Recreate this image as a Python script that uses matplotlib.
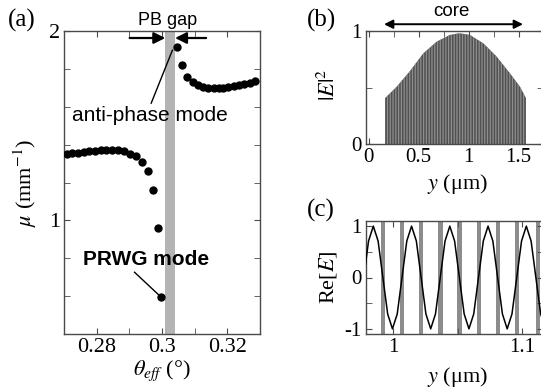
import numpy as np
import matplotlib
matplotlib.use("Agg")
import matplotlib.pyplot as plt

plt.rcParams['font.family'] = ['Liberation Serif', 'DejaVu Serif']
plt.rcParams['mathtext.fontset'] = 'stix'
plt.rcParams['axes.unicode_minus'] = False
plt.rcParams['hatch.linewidth'] = 0.9

# ---------------- data ----------------
# (a) attenuation mu vs theta_eff
theta_low = [0.2708, 0.2726, 0.2744, 0.2761, 0.2777, 0.2794, 0.2812, 0.2830,
             0.2847, 0.2865, 0.2884, 0.2903, 0.2921, 0.2938, 0.2956, 0.2973,
             0.2987, 0.2998]
mu_low = [1.353, 1.354, 1.358, 1.361, 1.365, 1.367, 1.369, 1.370,
          1.370, 1.369, 1.364, 1.353, 1.339, 1.309, 1.259, 1.162,
          0.959, 0.594]
theta_up = [0.3046, 0.3060, 0.3078, 0.3094, 0.3111, 0.3127, 0.3142, 0.3158,
            0.3173, 0.3188, 0.3203, 0.3219, 0.3235, 0.3251, 0.3268, 0.3285]
mu_up = [1.917, 1.820, 1.758, 1.732, 1.714, 1.704, 1.698, 1.697,
         1.697, 1.700, 1.704, 1.709, 1.714, 1.720, 1.726, 1.735]
gap_band = (0.301, 0.304)

# (b) |E|^2 envelope vs y
y_env = [0.165, 0.165, 0.282, 0.415, 0.548, 0.682, 0.815, 0.908, 1.015,
         1.148, 1.282, 1.415, 1.515, 1.575, 1.575]
e2_env = [0.0, 0.405, 0.507, 0.646, 0.802, 0.906, 0.965, 0.980, 0.965,
          0.891, 0.773, 0.625, 0.507, 0.405, 0.0]
core_span = (0.155, 1.545)

# (c) Re[E] vs y
y_re = [0.97695, 0.98068, 0.98440, 0.98813, 0.99185, 0.99558, 0.99930,
        1.00303, 1.00675, 1.01048, 1.01420, 1.01793, 1.02165, 1.02538,
        1.02910, 1.03283, 1.03655, 1.04028, 1.04400, 1.04773, 1.05145,
        1.05518, 1.05890, 1.06263, 1.06635, 1.07008, 1.07380, 1.07753,
        1.08125, 1.08498, 1.08870, 1.09243, 1.09615, 1.09988, 1.10360,
        1.10733, 1.11105, 1.11478, 1.11850]
re_e = [0.0, 0.71, 1.0, 0.71, 0.0, -0.71, -1.0,
        -0.71, 0.0, 0.71, 1.0, 0.71, 0.0, -0.71,
        -1.0, -0.71, 0.0, 0.71, 1.0, 0.71, 0.0,
        -0.71, -1.0, -0.71, 0.0, 0.71, 1.0, 0.71,
        0.0, -0.71, -1.0, -0.71, 0.0, 0.71, 1.0,
        0.71, 0.0, -0.71, -1.0]
layer_centers = [0.9918, 1.0069, 1.0217, 1.0368, 1.0516, 1.0666, 1.0815,
                 1.0965, 1.1125]
layer_width = 0.0034

# ---------------- figure ----------------
W, H = 541, 387
fig = plt.figure(figsize=(W / 100, H / 100), dpi=100)


def rect(l, r, t, b):
    return [l / W, 1 - b / H, (r - l) / W, (b - t) / H]


axcol = '#4a4a4a'


def style(ax, size):
    for s in ax.spines.values():
        s.set_color(axcol)
        s.set_linewidth(1.0)
    ax.tick_params(which='both', direction='in', top=True, right=True,
                   color=axcol, labelsize=size, pad=3)
    ax.tick_params(which='major', length=4)
    ax.tick_params(which='minor', length=4)


# ---- (a)
axa = fig.add_axes(rect(64, 260, 31, 334))
axa.axvspan(gap_band[0], gap_band[1], color='#b4b4b4', lw=0, zorder=1)
axa.plot(theta_low, mu_low, 'o', color='black', ms=5, zorder=3)
axa.plot(theta_up, mu_up, 'o', color='black', ms=5, zorder=3)
axa.set_xlim(0.27, 0.33)
axa.set_ylim(0.4, 2.0)
axa.set_xticks([0.28, 0.30, 0.32])
axa.set_xticklabels(['0.28', '0.3', '0.32'])
axa.set_xticks([0.27, 0.29, 0.31, 0.33], minor=True)
axa.set_yticks([1, 2])
axa.set_yticklabels(['1', '2'])
axa.set_yticks([0.4, 0.6, 0.8, 1.2, 1.4, 1.6, 1.8], minor=True)
style(axa, 16)
axa.set_ylabel(r'$\mu$ (mm$^{-1}$)', fontsize=16)
axa.yaxis.set_label_coords(-0.13, 0.5)
axa.set_xlabel(r'$\theta_{eff}$ (°)', fontsize=16)
axa.xaxis.set_label_coords(0.5, -0.08)

sans = ['Liberation Sans', 'DejaVu Sans']
# PB gap arrows + text
axa.annotate('', xy=(gap_band[0], 1.963), xytext=(0.2901, 1.963),
             arrowprops=dict(arrowstyle='-|>', color='black', lw=1.6,
                             mutation_scale=17, shrinkA=0, shrinkB=0),
             annotation_clip=False, zorder=4)
axa.annotate('', xy=(gap_band[1], 1.963), xytext=(0.3135, 1.963),
             arrowprops=dict(arrowstyle='-|>', color='black', lw=1.6,
                             mutation_scale=17, shrinkA=0, shrinkB=0),
             annotation_clip=False, zorder=4)
axa.text(0.3018, 2.058, 'PB gap', family=sans, fontsize=13,
         ha='center', va='center', clip_on=False)
# mode annotations
axa.text(0.2963, 1.556, 'anti-phase mode', family=sans, fontsize=15,
         ha='center', va='center', zorder=5)
axa.plot([0.2967, 0.3032], [1.619, 1.899], color='black', lw=1.0, zorder=4)
axa.text(0.2951, 0.794, 'PRWG mode', family=sans, fontsize=15,
         fontweight='bold', ha='center', va='center', zorder=5)
axa.plot([0.2916, 0.2989], [0.726, 0.608], color='black', lw=1.0, zorder=4)

# ---- (b)
axb = fig.add_axes(rect(366, 543, 31, 144))
axb.fill_between(y_env, 0, e2_env, facecolor='#505050', edgecolor='#8e8e8e',
                 hatch='||||||', linewidth=0, zorder=2)
axb.set_xlim(-0.025, 1.745)
axb.set_ylim(0, 1)
axb.set_xticks([0, 0.5, 1, 1.5])
axb.set_xticklabels(['0', '0.5', '1', '1.5'])
axb.set_xticks([0.25, 0.75, 1.25], minor=True)
axb.set_yticks([0, 1])
axb.set_yticklabels(['0', '1'])
axb.set_yticks([0.5], minor=True)
style(axb, 15)
axb.set_ylabel(r'$|E|^2$', fontsize=16)
axb.yaxis.set_label_coords(-0.15, 0.52)
axb.set_xlabel(r'$y$ (μm)', fontsize=16)
axb.xaxis.set_label_coords(0.52, -0.25)
axb.annotate('', xy=(core_span[0], 1.06), xytext=(core_span[1], 1.06),
             xycoords=axb.get_xaxis_transform(),
             textcoords=axb.get_xaxis_transform(),
             arrowprops=dict(arrowstyle='<|-|>', color='black', lw=1.4,
                             mutation_scale=13, shrinkA=0, shrinkB=0),
             annotation_clip=False)
axb.text(0.5 * (core_span[0] + core_span[1]) - 0.02, 1.17, 'core',
         transform=axb.get_xaxis_transform(), family=sans, fontsize=13.5,
         ha='center', va='center', clip_on=False)

# ---- (c)
axc = fig.add_axes(rect(366, 543, 221, 334))
for c in layer_centers:
    axc.axvspan(c - layer_width / 2, c + layer_width / 2, color='#8c8c8c',
                lw=0, zorder=1)
axc.plot(y_re, re_e, color='black', lw=1.1, zorder=3)
axc.set_xlim(0.9787, 1.1166)
axc.set_ylim(-1.1, 1.1)
axc.set_xticks([1.0, 1.1])
axc.set_xticklabels(['1', '1.1'])
axc.set_xticks([1.05], minor=True)
axc.set_yticks([-1, 0, 1])
axc.set_yticklabels(['-1', '0', '1'])
axc.set_yticks([-0.5, 0.5], minor=True)
style(axc, 15)
axc.set_ylabel(r'Re[$E$]', fontsize=16)
axc.yaxis.set_label_coords(-0.15, 0.5)
axc.set_xlabel(r'$y$ (μm)', fontsize=16)
axc.xaxis.set_label_coords(0.52, -0.27)

# panel labels
fig.text(8 / W, 1 - 20 / H, '(a)', fontsize=18, ha='left', va='center')
fig.text(307 / W, 1 - 20 / H, '(b)', fontsize=18, ha='left', va='center')
fig.text(307 / W, 1 - 210 / H, '(c)', fontsize=18, ha='left', va='center')

fig.savefig('out.png', dpi=100)
